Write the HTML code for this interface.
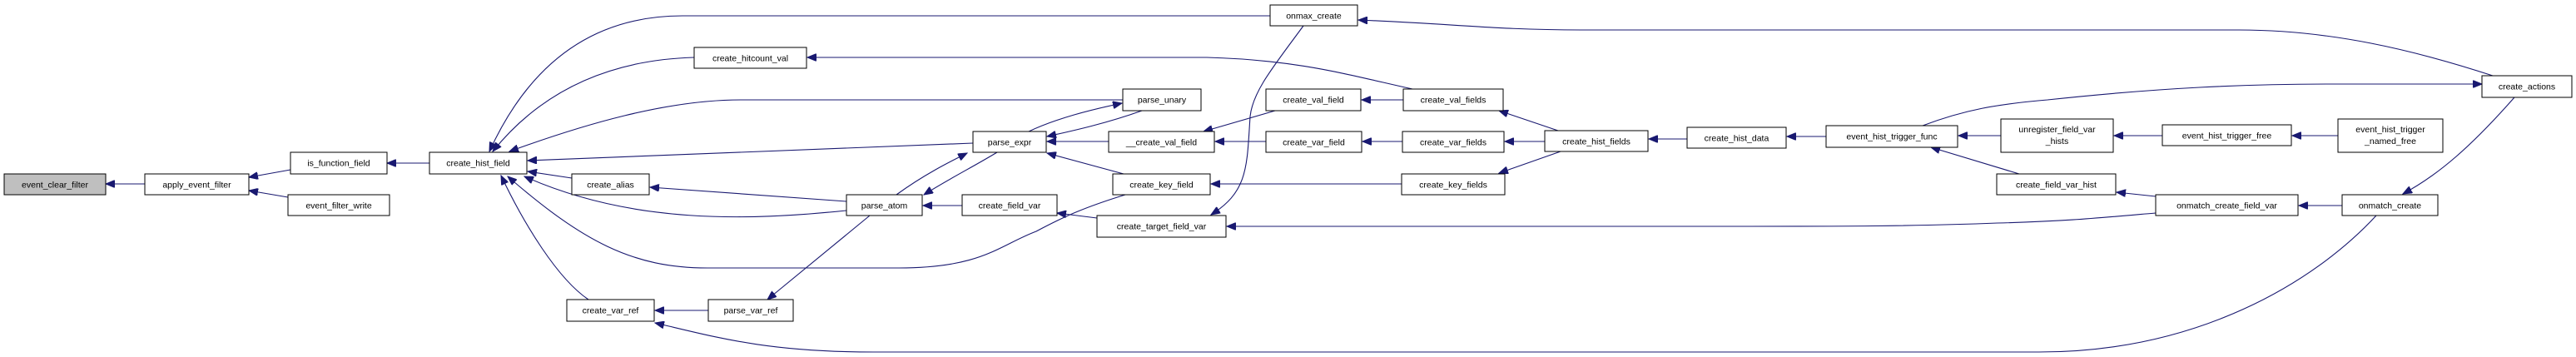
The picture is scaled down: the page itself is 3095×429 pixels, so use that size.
<!DOCTYPE html>
<html><head><meta charset="utf-8"><style>
html,body{margin:0;padding:0;background:#fff;}
svg{display:block}
text{font-family:"Liberation Sans",sans-serif;font-size:10.5px;fill:#000}
.n{fill:#fff;stroke:#000;stroke-width:1}
.e{fill:none;stroke:#191970;stroke-width:1.1}
</style></head><body>
<svg width="3095" height="429" viewBox="0 0 3095 429" xmlns="http://www.w3.org/2000/svg">
<defs><marker id="a" markerUnits="userSpaceOnUse" markerWidth="12" markerHeight="9" refX="11" refY="4.5" orient="auto"><path d="M0,0 L11,4.5 L0,9 z" fill="#191970" stroke="#191970"/></marker></defs>
<g class="edges">
<path class="e" marker-end="url(#a)" d="M174,221 L127,221"/>
<path class="e" marker-end="url(#a)" d="M349,204 L299,213"/>
<path class="e" marker-end="url(#a)" d="M346,237 L299,229"/>
<path class="e" marker-end="url(#a)" d="M516,196 L465,196"/>
<path class="e" marker-end="url(#a)" d="M1526,19 L820,19 C700,19 630,90 588,182"/>
<path class="e" marker-end="url(#a)" d="M834,69 C730,72 650,110 592,182"/>
<path class="e" marker-end="url(#a)" d="M1349,120 L890,120 C800,120 700,150 612,182"/>
<path class="e" marker-end="url(#a)" d="M1169,172 L634,193"/>
<path class="e" marker-end="url(#a)" d="M687,214 L634,206"/>
<path class="e" marker-end="url(#a)" d="M1017,253 C900,265 760,270 630,212"/>
<path class="e" marker-end="url(#a)" d="M1352,234 C1300,250 1275,262 1245,278 C1200,295 1180,322 1080,322 L850,322 C760,322 700,290 610,212"/>
<path class="e" marker-end="url(#a)" d="M707,360 C670,335 630,270 602,211"/>
<path class="e" marker-end="url(#a)" d="M1017,242 L781,225"/>
<path class="e" marker-end="url(#a)" d="M1077,234 C1110,210 1140,195 1162,184"/>
<path class="e" marker-end="url(#a)" d="M1198,183 C1170,200 1140,215 1110,234"/>
<path class="e" marker-end="url(#a)" d="M1156,247 L1109,247"/>
<path class="e" marker-end="url(#a)" d="M1045,259 L922,360"/>
<path class="e" marker-end="url(#a)" d="M851,373 L787,373"/>
<path class="e" marker-end="url(#a)" d="M2855,259 C2780,340 2640,423 2450,423 L1050,423 C920,423 860,405 787,388"/>
<path class="e" marker-end="url(#a)" d="M1236,158 C1270,142 1310,132 1348,124"/>
<path class="e" marker-end="url(#a)" d="M1372,133 C1330,148 1290,157 1258,164"/>
<path class="e" marker-end="url(#a)" d="M1332,170 L1258,170"/>
<path class="e" marker-end="url(#a)" d="M1350,209 L1258,184"/>
<path class="e" marker-end="url(#a)" d="M1532,133 L1446,158"/>
<path class="e" marker-end="url(#a)" d="M1521,170 L1460,170"/>
<path class="e" marker-end="url(#a)" d="M1318,262 L1270,256"/>
<path class="e" marker-end="url(#a)" d="M1566,31 C1530,80 1505,110 1502,140 C1498,200 1500,230 1455,258"/>
<path class="e" marker-end="url(#a)" d="M1697,107 C1620,90 1560,72 1450,69 L970,69"/>
<path class="e" marker-end="url(#a)" d="M1686,120 L1636,120"/>
<path class="e" marker-end="url(#a)" d="M1685,170 L1637,170"/>
<path class="e" marker-end="url(#a)" d="M1684,221 L1455,221"/>
<path class="e" marker-end="url(#a)" d="M1872,157 L1801,133"/>
<path class="e" marker-end="url(#a)" d="M1856,170 L1808,170"/>
<path class="e" marker-end="url(#a)" d="M1875,182 L1801,208"/>
<path class="e" marker-end="url(#a)" d="M2027,167 L1981,167"/>
<path class="e" marker-end="url(#a)" d="M2194,164 L2147,164"/>
<path class="e" marker-end="url(#a)" d="M2404,163 L2353,163"/>
<path class="e" marker-end="url(#a)" d="M2426,209 L2320,177"/>
<path class="e" marker-end="url(#a)" d="M2310,151 C2360,132 2400,125 2460,120 C2600,105 2700,101 2800,101 L2982,101"/>
<path class="e" marker-end="url(#a)" d="M2995,91 C2900,60 2800,36 2690,36 L1900,36 C1800,36 1750,29 1632,24"/>
<path class="e" marker-end="url(#a)" d="M2598,163 L2540,163"/>
<path class="e" marker-end="url(#a)" d="M2809,163 L2754,163"/>
<path class="e" marker-end="url(#a)" d="M2590,236 L2543,231"/>
<path class="e" marker-end="url(#a)" d="M2590,256 C2520,262 2480,266 2400,268 C2300,272 2200,272 2100,272 L1474,272"/>
<path class="e" marker-end="url(#a)" d="M2814,247 L2762,247"/>
<path class="e" marker-end="url(#a)" d="M3021,117 C2970,175 2930,210 2887,233"/>
</g>
<g>
<rect x="5" y="209" width="122" height="25" fill="#bfbfbf" stroke="#000"/><text x="66" y="225.5" text-anchor="middle">event_clear_filter</text>
<rect class="n" x="174" y="209" width="125" height="25"/><text x="236.5" y="225.5" text-anchor="middle">apply_event_filter</text>
<rect class="n" x="349" y="183" width="116" height="26"/><text x="407" y="199.5" text-anchor="middle">is_function_field</text>
<rect class="n" x="346" y="234" width="122" height="25"/><text x="407" y="250.5" text-anchor="middle">event_filter_write</text>
<rect class="n" x="516" y="183" width="117" height="26"/><text x="574.5" y="199.5" text-anchor="middle">create_hist_field</text>
<rect class="n" x="834" y="57" width="135" height="25"/><text x="901.5" y="73.5" text-anchor="middle">create_hitcount_val</text>
<rect class="n" x="687" y="209" width="93" height="25"/><text x="733.5" y="225.5" text-anchor="middle">create_alias</text>
<rect class="n" x="1017" y="234" width="91" height="25"/><text x="1062.5" y="250.5" text-anchor="middle">parse_atom</text>
<rect class="n" x="681" y="360" width="105" height="26"/><text x="733.5" y="376.5" text-anchor="middle">create_var_ref</text>
<rect class="n" x="851" y="360" width="102" height="26"/><text x="902" y="376.5" text-anchor="middle">parse_var_ref</text>
<rect class="n" x="1349" y="107" width="94" height="26"/><text x="1396" y="123.5" text-anchor="middle">parse_unary</text>
<rect class="n" x="1169" y="158" width="88" height="25"/><text x="1213" y="174.5" text-anchor="middle">parse_expr</text>
<rect class="n" x="1332" y="158" width="127" height="25"/><text x="1395.5" y="174.5" text-anchor="middle">__create_val_field</text>
<rect class="n" x="1337" y="209" width="117" height="25"/><text x="1395.5" y="225.5" text-anchor="middle">create_key_field</text>
<rect class="n" x="1156" y="234" width="114" height="25"/><text x="1213" y="250.5" text-anchor="middle">create_field_var</text>
<rect class="n" x="1318" y="259" width="155" height="26"/><text x="1395.5" y="275.5" text-anchor="middle">create_target_field_var</text>
<rect class="n" x="1526" y="6" width="105" height="25"/><text x="1578.5" y="22.5" text-anchor="middle">onmax_create</text>
<rect class="n" x="1521" y="107" width="114" height="26"/><text x="1578" y="123.5" text-anchor="middle">create_val_field</text>
<rect class="n" x="1521" y="158" width="115" height="25"/><text x="1578.5" y="174.5" text-anchor="middle">create_var_field</text>
<rect class="n" x="1686" y="107" width="120" height="26"/><text x="1746" y="123.5" text-anchor="middle">create_val_fields</text>
<rect class="n" x="1685" y="158" width="122" height="25"/><text x="1746" y="174.5" text-anchor="middle">create_var_fields</text>
<rect class="n" x="1684" y="209" width="124" height="25"/><text x="1746" y="225.5" text-anchor="middle">create_key_fields</text>
<rect class="n" x="1856" y="157" width="124" height="25"/><text x="1918" y="173.5" text-anchor="middle">create_hist_fields</text>
<rect class="n" x="2027" y="153" width="119" height="25"/><text x="2086.5" y="169.5" text-anchor="middle">create_hist_data</text>
<rect class="n" x="2194" y="151" width="158" height="26"/><text x="2273" y="167.5" text-anchor="middle">event_hist_trigger_func</text>
<rect class="n" x="2404" y="143" width="135" height="40"/><text x="2471.5" y="159" text-anchor="middle">unregister_field_var</text><text x="2471.5" y="173" text-anchor="middle">_hists</text>
<rect class="n" x="2399" y="209" width="143" height="25"/><text x="2470.5" y="225.5" text-anchor="middle">create_field_var_hist</text>
<rect class="n" x="2982" y="91" width="108" height="26"/><text x="3036" y="107.5" text-anchor="middle">create_actions</text>
<rect class="n" x="2598" y="150" width="155" height="25"/><text x="2675.5" y="166.5" text-anchor="middle">event_hist_trigger_free</text>
<rect class="n" x="2809" y="143" width="126" height="40"/><text x="2872" y="159" text-anchor="middle">event_hist_trigger</text><text x="2872" y="173" text-anchor="middle">_named_free</text>
<rect class="n" x="2590" y="234" width="171" height="25"/><text x="2675.5" y="250.5" text-anchor="middle">onmatch_create_field_var</text>
<rect class="n" x="2814" y="234" width="115" height="25"/><text x="2871.5" y="250.5" text-anchor="middle">onmatch_create</text>
</g>
</svg>
</body></html>
